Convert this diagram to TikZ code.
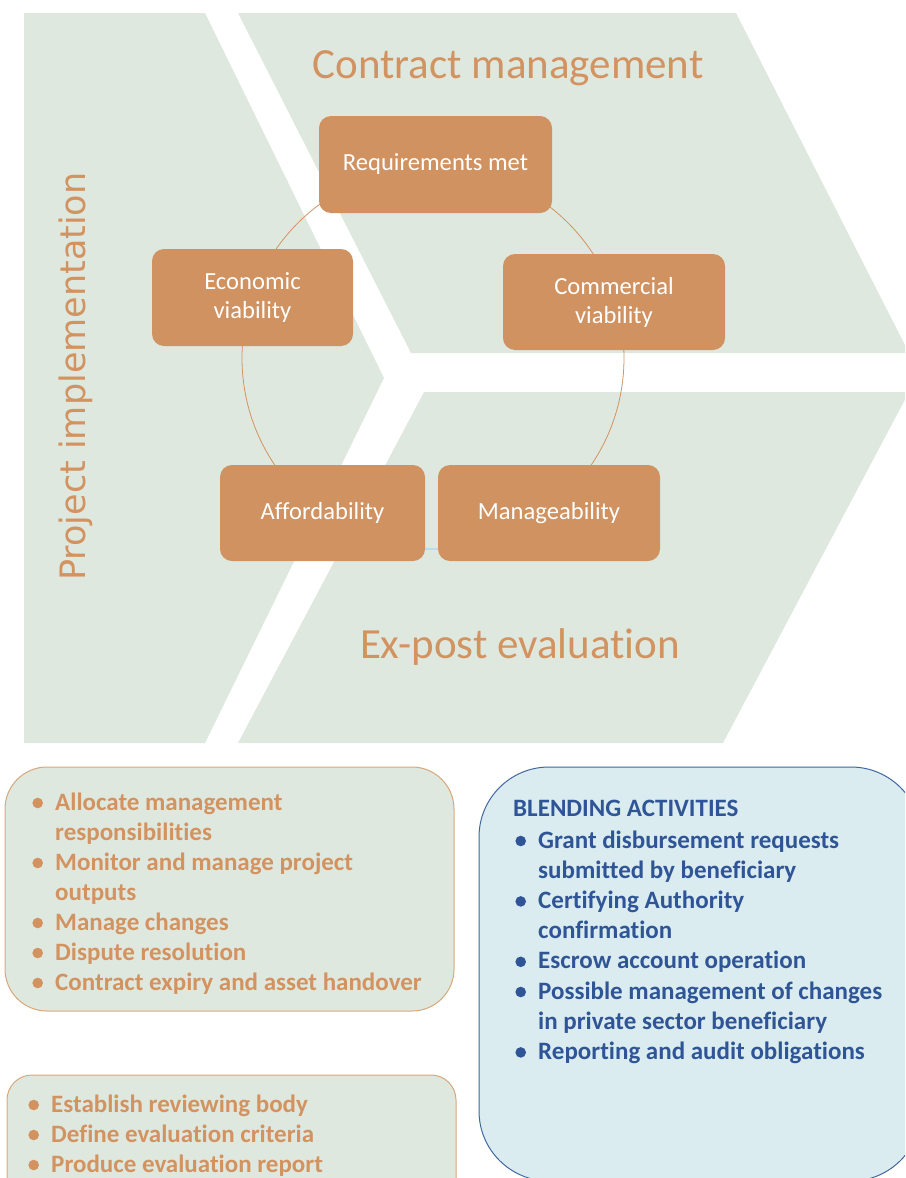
\documentclass[tikz,border=0pt]{standalone}
\usepackage{fontspec}
\setmainfont[RawFeature={-liga;-clig;-dlig;-calt}]{Carlito}
\newfontfamily\djv{DejaVu Sans}
\definecolor{panel}{HTML}{DFE8DF}
\definecolor{boxc}{HTML}{CF9260}
\definecolor{tanc}{HTML}{D29360}
\definecolor{tanborder}{HTML}{D9A77A}
\definecolor{bluefill}{HTML}{DAECEF}
\definecolor{blueborder}{HTML}{41679F}
\definecolor{bluetext}{HTML}{2F5597}
\definecolor{lightblue}{HTML}{B9DDE6}
\tikzset{
  cyclebox/.style={rounded corners=12pt, fill=boxc, text=white, inner sep=2pt,
    align=center, font=\fontsize{24.6}{29}\selectfont},
  bigtitle/.style={text=tanc, inner sep=0pt, anchor=base, font=\fontsize{43}{50}\selectfont},
  listtext/.style={inner sep=0pt, anchor=base west, font=\bfseries\fontsize{25}{30}\selectfont},
  cycleline/.style={draw=tanc, line width=0.8pt}
}
\newcommand{\bul}[1]{\makebox[23pt][l]{\tikz[baseline=0pt,x=1pt,y=1pt]{\useasboundingbox (0,0) rectangle (11,12);\fill[#1] (5.5,7) circle[radius=5.3pt];}}}
\begin{document}
\begin{tikzpicture}[x=1pt,y=-1pt]
\useasboundingbox (0,0) rectangle (905,1178);
\clip (0,0) rectangle (905,1178);
% panels
\fill[panel] (24,13) -- (205,13) -- (384,378) -- (205,743) -- (24,743) -- cycle;
\fill[panel] (238,13) -- (736,13) -- (909,353) -- (411,353) -- cycle;
\fill[panel] (424,392) -- (909,392) -- (723,743) -- (238,743) -- cycle;
% titles
\node[bigtitle] (tcm) at (508,78) {Contract management};
\node[bigtitle] (tep) at (520,658) {Ex-post evaluation};
\node[text=tanc, inner sep=0pt, anchor=base, rotate=90, font=\djv\fontsize{35}{40}\selectfont] (tpi) at (85,376.5) {Project implementation};
% cycle
\coordinate (cc) at (433,358);
\coordinate (cb) at (433,549);
\draw[cycleline] (cc) circle (191pt);
% boxes
\node[cyclebox, minimum width=233pt, minimum height=97pt] (req) at (435.5,164.5) {Requirements met};
\node[cyclebox, minimum width=201pt, minimum height=97pt] (eco) at (252.5,297.5) {Economic\\viability};
\node[cyclebox, minimum width=222pt, minimum height=96pt] (com) at (614,302) {Commercial\\viability};
\node[cyclebox, minimum width=205pt, minimum height=96pt] (aff) at (322.5,513) {Affordability};
\node[cyclebox, minimum width=222pt, minimum height=96pt] (man) at (549,513) {Manageability};
\draw[draw=lightblue, line width=1.6pt] (aff.east |- cb) -- (man.west |- cb);
% lower boxes
\draw[fill=panel, draw=tanborder, line width=1pt, rounded corners=42pt] (5,767) rectangle (454,1011);
\draw[fill=panel, draw=tanborder, line width=1pt, rounded corners=25pt] (7,1075) rectangle (456,1215);
\draw[fill=bluefill, draw=blueborder, line width=1pt, rounded corners=70pt] (479,767) rectangle (921,1181);
\node[listtext, text=tanc] (lista) at (32,810) {\begin{tabular}[t]{@{}l@{}l@{}}
\bul{tanc} & Allocate management\\
 & responsibilities\\
\bul{tanc} & Monitor and manage project\\
 & outputs\\
\bul{tanc} & Manage changes\\
\bul{tanc} & Dispute resolution\\
\bul{tanc} & Contract expiry and asset handover
\end{tabular}};
\node[listtext, text=tanc] (listb) at (28,1112) {\begin{tabular}[t]{@{}l@{}l@{}}
\bul{tanc} & Establish reviewing body\\
\bul{tanc} & Define evaluation criteria\\
\bul{tanc} & Produce evaluation report
\end{tabular}};
\node[listtext, text=bluetext] (blendtitle) at (513,816) {BLENDING ACTIVITIES};
\node[listtext, text=bluetext, font=\bfseries\fontsize{25}{30.2}\selectfont] (listc) at (515,848) {\begin{tabular}[t]{@{}l@{}l@{}}
\bul{bluetext} & Grant disbursement requests\\
 & submitted by beneficiary\\
\bul{bluetext} & Certifying Authority\\
 & confirmation\\
\bul{bluetext} & Escrow account operation\\
\bul{bluetext} & Possible management of changes\\
 & in private sector beneficiary\\
\bul{bluetext} & Reporting and audit obligations
\end{tabular}};
\end{tikzpicture}
\end{document}
